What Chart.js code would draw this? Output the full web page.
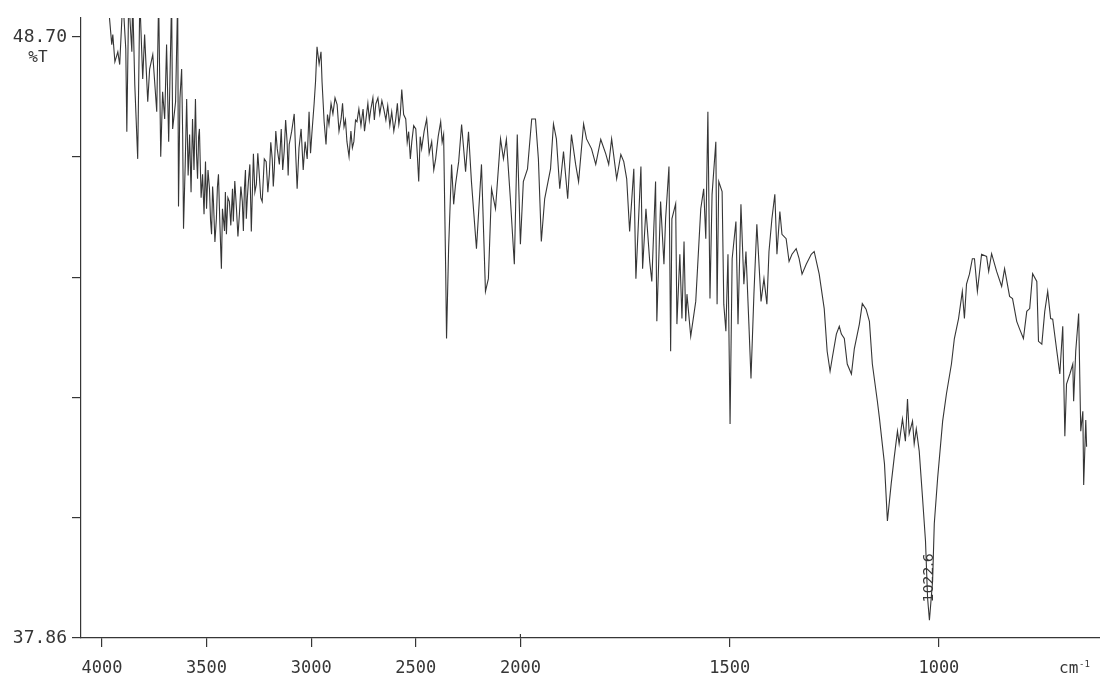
<!DOCTYPE html>
<html>
<head>
<meta charset="utf-8">
<title>IR spectrum</title>
<script src="https://cdn.jsdelivr.net/npm/chart.js@4.4.1/dist/chart.umd.min.js"></script>
<style>
    html, body { margin: 0; padding: 0; background: #ffffff; }
    #spectrum { display: block; }
</style>
</head>
<body>
<canvas id="spectrum" width="1100" height="675"></canvas>
<script>
// FTIR transmittance spectrum, wavenumber axis runs 4000 -> 650 cm-1

const wavenumbers = [
    3972, 3953, 3948, 3938, 3924, 3915, 3900, 3886, 3881, 3872, 3857, 3853, 3843, 3829, 3819, 3805,
    3796, 3781, 3772, 3757, 3738, 3729, 3719, 3710, 3700, 3691, 3681, 3667, 3662, 3648, 3638,
    3634, 3627, 3619, 3614, 3610, 3602, 3595, 3588, 3581, 3574,
    3567, 3560, 3553, 3548, 3543, 3538, 3534, 3526, 3519, 3512,
    3505, 3500, 3493, 3486, 3481, 3476, 3471, 3467, 3460, 3453,
    3448, 3443, 3436, 3429, 3424, 3414, 3410, 3405, 3398, 3391,
    3384, 3376, 3372, 3365, 3357, 3350, 3343, 3336, 3329, 3324,
    3319, 3314, 3310, 3305, 3300, 3293, 3286, 3281, 3276, 3269,
    3262, 3255, 3248, 3241, 3234, 3224, 3215, 3207, 3200, 3193,
    3186, 3181, 3176, 3169, 3162, 3152, 3143, 3136, 3129, 3122,
    3115, 3110, 3105,
    3093, 3081, 3074, 3067, 3058, 3048, 3038, 3029, 3019, 3010,
    3003, 2996, 2986, 2979, 2972, 2962, 2953, 2948, 2938, 2929,
    2922, 2915, 2905, 2896, 2886, 2876, 2867, 2857, 2850, 2843,
    2836, 2829, 2819, 2810, 2803, 2796, 2788, 2781, 2772, 2762,
    2752, 2745, 2738, 2729, 2722, 2715, 2705, 2698, 2691, 2681,
    2672, 2662, 2653, 2643, 2634, 2624, 2615, 2605, 2596, 2588,
    2581, 2574, 2567, 2558, 2548, 2541, 2534, 2526, 2519, 2510,
    2500, 2493, 2486, 2479, 2472, 2460, 2448, 2436, 2424, 2414,
    2405, 2393, 2381, 2374, 2367, 2357, 2353, 2343, 2329, 2319,
    2310, 2295, 2281, 2262,
    2248, 2234, 2210, 2186, 2167, 2153, 2138, 2119, 2095, 2081, 2067, 2048, 2029, 2015, 2000, 1993,
    1983, 1973, 1964, 1957, 1950, 1942, 1928, 1921, 1914, 1906, 1897, 1887, 1878, 1868, 1861, 1849,
    1842, 1830, 1820, 1808, 1796, 1789, 1782, 1770, 1760, 1753, 1746, 1739, 1729, 1724, 1712, 1708,
    1700, 1691, 1686, 1677, 1674,
    1665, 1657, 1653, 1645, 1641, 1638, 1629, 1626, 1619, 1614, 1609, 1605, 1602, 1593, 1581, 1569,
    1562, 1557, 1552, 1547, 1542, 1533, 1530, 1526, 1518, 1514, 1509, 1504, 1499, 1494, 1485, 1480,
    1473, 1466, 1461, 1454, 1449, 1442, 1435, 1425, 1418, 1411, 1406, 1399, 1392, 1387, 1380, 1375,
    1365, 1358, 1351, 1341, 1334, 1327, 1317, 1305, 1298, 1286, 1274, 1267, 1260, 1255, 1245, 1238,
    1233, 1226, 1219, 1209, 1202, 1190, 1183, 1174, 1166, 1159, 1147, 1142, 1130, 1123, 1114, 1107,
    1099, 1095, 1087, 1080, 1075, 1071, 1063, 1059, 1054, 1047, 1039, 1032, 1027, 1022.6, 1015, 1011,
    1003, 991, 982, 970, 963, 953, 944, 939, 934, 927, 920, 915,
    908, 898, 886, 881, 874, 862, 850, 843, 831, 824, 814, 807, 798, 790, 783, 776,
    766, 762, 754, 747, 740, 733, 728, 719, 711, 704, 699, 695, 687, 680, 678, 673,
    666, 661, 656, 654, 649, 647
];

const transmittance = [
    49.40, 48.56, 48.74, 48.25, 48.43, 48.20, 49.40, 48.48, 46.99, 49.40, 48.43, 49.40, 47.84, 46.50, 49.40, 47.94,
    48.74, 47.53, 48.12, 48.38, 47.35, 49.40, 46.54, 47.71, 47.22, 48.56, 46.81, 49.40, 47.04, 47.53, 49.40,
    45.64, 47.60, 48.12, 46.90, 45.24, 46.40, 47.58, 46.20, 46.94, 45.90,
    47.22, 46.30, 47.58, 46.60, 46.14, 46.90, 47.04, 45.80, 46.22, 45.50,
    46.45, 45.60, 46.30, 45.96, 45.40, 45.14, 46.00, 45.73, 45.00, 45.42,
    46.00, 46.22, 45.30, 44.52, 45.60, 45.20, 45.90, 45.14, 45.80, 45.73,
    45.30, 45.96, 45.37, 46.10, 45.60, 45.10, 45.50, 46.00, 45.73, 45.20,
    45.96, 46.30, 45.42, 45.80, 46.09, 46.40, 45.19, 45.90, 46.59, 45.90,
    46.04, 46.60, 46.22, 45.80, 45.73, 46.50, 46.45, 45.90, 46.22, 46.80,
    46.50, 46.00, 46.32, 47.00, 46.68, 46.40, 47.04, 46.30, 46.63, 47.20,
    46.81, 46.20, 46.76,
    47.00, 47.31, 46.60, 45.96, 46.70, 47.04, 46.30, 46.81, 46.50, 47.35,
    46.60, 46.99, 47.49, 47.90, 48.52, 48.21, 48.43, 47.89, 47.17, 46.76,
    47.30, 47.12, 47.50, 47.31, 47.60, 47.48, 47.00, 47.22, 47.50, 47.08,
    47.20, 46.81, 46.54, 47.00, 46.70, 46.81, 47.20, 47.17, 47.40, 47.10,
    47.40, 47.00, 47.22, 47.50, 47.20, 47.39, 47.60, 47.20, 47.49, 47.60,
    47.31, 47.55, 47.40, 47.20, 47.46, 47.10, 47.35, 47.00, 47.21, 47.50,
    47.12, 47.30, 47.75, 47.30, 47.22, 46.80, 46.99, 46.50, 46.81, 47.10,
    47.04, 46.60, 46.09, 46.90, 46.68, 47.00, 47.22, 46.60, 46.81, 46.30,
    46.50, 46.90, 47.17, 46.80, 46.94, 44.47, 43.26, 44.90, 46.40, 45.68,
    46.04, 46.45, 47.12, 46.27,
    46.99, 46.09, 44.88, 46.40, 44.11, 44.34, 45.96, 45.60, 46.86, 46.50, 46.85, 45.78, 44.60, 46.94, 44.96, 46.09,
    46.32, 47.22, 47.22, 46.50, 45.01, 45.78, 46.32, 47.13, 46.86, 45.96, 46.63, 45.78, 46.94, 46.40, 46.09, 47.13,
    46.86, 46.68, 46.40, 46.85, 46.59, 46.40, 46.86, 46.14, 46.58, 46.45, 46.14, 45.19, 46.32, 44.34, 46.36, 44.52,
    45.60, 44.65, 44.29, 46.09, 43.57,
    45.73, 44.60, 45.42, 46.36, 43.03, 45.42, 45.69, 43.52, 44.78, 43.62, 45.01, 43.57, 44.06, 43.30, 43.93, 45.60,
    45.96, 45.06, 47.35, 43.98, 45.86, 46.81, 43.88, 46.09, 45.91, 43.88, 43.39, 44.78, 41.72, 44.70, 45.37, 43.52,
    45.68, 44.24, 44.83, 43.52, 42.54, 44.06, 45.32, 43.93, 44.34, 43.88, 44.83, 45.42, 45.86, 44.78, 45.55, 45.14,
    45.06, 44.65, 44.78, 44.88, 44.70, 44.42, 44.60, 44.78, 44.83, 44.42, 43.80, 43.03, 42.67, 42.90, 43.34, 43.48,
    43.34, 43.26, 42.80, 42.62, 43.08, 43.52, 43.89, 43.79, 43.57, 42.80, 42.13, 41.82, 41.00, 39.97, 40.64, 41.10,
    41.59, 41.36, 41.81, 41.41, 42.17, 41.54, 41.77, 41.36, 41.63, 41.23, 40.38, 39.61, 38.58, 38.18, 38.89, 39.92,
    40.74, 41.77, 42.26, 42.80, 43.26, 43.62, 44.11, 43.62, 44.24, 44.42, 44.70, 44.70,
    44.11, 44.78, 44.74, 44.47, 44.79, 44.47, 44.20, 44.52, 44.02, 43.98, 43.57, 43.43, 43.26, 43.75, 43.80, 44.43,
    44.29, 43.21, 43.16, 43.75, 44.11, 43.62, 43.61, 43.08, 42.62, 43.48, 41.50, 42.44, 42.62, 42.80, 42.13, 43.03,
    43.71, 41.59, 41.95, 40.62, 41.79, 41.31
];

const xTickValues = [4000, 3500, 3000, 2500, 2000, 1500, 1000];
const yTickValues = [37.86, 40.028, 42.196, 44.364, 46.532, 48.70];

const X_LEFT = 4100;     // wavenumber at the y axis
const X_RIGHT = 615;     // wavenumber at the right edge
const X_BREAK = 2000;    // below this the axis is stretched 2x
const Y_MIN = 37.86;
const Y_MAX = 49.04;

const INK = "#363636";
const LABEL_FONT = '"DejaVu Sans Mono", monospace';

/* -------- split-scale wavenumber axis -------- */

function waveToUnits(wn) {
    if (wn >= X_BREAK) return X_LEFT - wn;
    return (X_LEFT - X_BREAK) + 2 * (X_BREAK - wn);
}

function unitsToWave(u) {
    const head = X_LEFT - X_BREAK;
    if (u <= head) return X_LEFT - u;
    return X_BREAK - (u - head) / 2;
}

const U_SPAN = waveToUnits(X_RIGHT);

class WavenumberScale extends Chart.LinearScale {
    getPixelForValue(value) {
        return this.left + (waveToUnits(value) / U_SPAN) * this.width;
    }
    getValueForPixel(pixel) {
        return unitsToWave(((pixel - this.left) / this.width) * U_SPAN);
    }
}
WavenumberScale.id = "wavenumber";
Chart.register(WavenumberScale);

/* -------- extra texts: units, peak label -------- */

const spectrumLabels = {
    id: "spectrumLabels",
    afterDraw(chart) {
        const { ctx } = chart;
        const xs = chart.scales.x;
        const ys = chart.scales.y;
        ctx.save();
        ctx.fillStyle = INK;
        ctx.strokeStyle = INK;

        // %T under the top value
        ctx.font = "16px " + LABEL_FONT;
        ctx.textAlign = "center";
        ctx.textBaseline = "middle";
        ctx.fillText("%T", 38, ys.getPixelForValue(yTickValues[yTickValues.length - 1]) + 21);

        // cm-1 at the end of the x axis
        ctx.textAlign = "left";
        ctx.textBaseline = "alphabetic";
        ctx.font = "16px " + LABEL_FONT;
        ctx.fillText("cm", 1059, 673);
        ctx.font = "9px " + LABEL_FONT;
        ctx.fillText("-1", 1079, 667);

        // the 2000 tick crosses the axis line
        const p2000 = xs.getPixelForValue(X_BREAK);
        ctx.lineWidth = 1.2;
        ctx.beginPath();
        ctx.moveTo(p2000, ys.bottom - 4);
        ctx.lineTo(p2000, ys.bottom);
        ctx.stroke();

        // strongest band, labelled along the dip
        const minT = Math.min(...transmittance);
        const iMin = transmittance.indexOf(minT);
        const px = xs.getPixelForValue(wavenumbers[iMin]);
        const py = ys.getPixelForValue(minT);
        ctx.translate(px, py - 18);
        ctx.rotate(-Math.PI / 2);
        ctx.font = '14px "DejaVu Sans", sans-serif';
        ctx.textAlign = "left";
        ctx.textBaseline = "middle";
        ctx.fillText(wavenumbers[iMin].toFixed(1), 0, 0);

        ctx.restore();
    }
};

/* -------- chart -------- */

const points = wavenumbers.map((wn, i) => ({ x: wn, y: transmittance[i] }));

new Chart(document.getElementById("spectrum"), {
    type: "line",
    data: {
        datasets: [{
            data: points,
            borderColor: INK,
            borderWidth: 1.1,
            pointRadius: 0,
            tension: 0,
            fill: false
        }]
    },
    options: {
        responsive: false,
        animation: false,
        layout: { padding: { top: 18, right: 0, bottom: 0, left: 0 } },
        plugins: {
            legend: { display: false },
            tooltip: { enabled: false }
        },
        scales: {
            x: {
                type: "wavenumber",
                min: X_RIGHT,
                max: X_LEFT,
                afterBuildTicks: s => { s.ticks = xTickValues.map(v => ({ value: v })); },
                afterFit: s => { s.height = 37; },
                grid: { drawOnChartArea: false, drawTicks: true, tickLength: 9, color: INK, lineWidth: 1.2 },
                border: { display: true, color: INK, width: 1.2 },
                ticks: {
                    autoSkip: false,
                    maxRotation: 0,
                    padding: 11,
                    color: INK,
                    font: { family: LABEL_FONT, size: 17 },
                    callback: v => String(v)
                }
            },
            y: {
                type: "linear",
                min: Y_MIN,
                max: Y_MAX,
                afterBuildTicks: s => { s.ticks = yTickValues.map(v => ({ value: v })); },
                afterFit: s => { s.width = 81; },
                grid: { drawOnChartArea: false, drawTicks: true, tickLength: 9, color: INK, lineWidth: 1.2 },
                border: { display: true, color: INK, width: 1.2 },
                ticks: {
                    padding: 5,
                    color: INK,
                    font: { family: LABEL_FONT, size: 18 },
                    callback: (v, i, all) => (i === 0 || i === all.length - 1) ? v.toFixed(2) : ""
                }
            }
        }
    },
    plugins: [spectrumLabels]
});
</script>
</body>
</html>
